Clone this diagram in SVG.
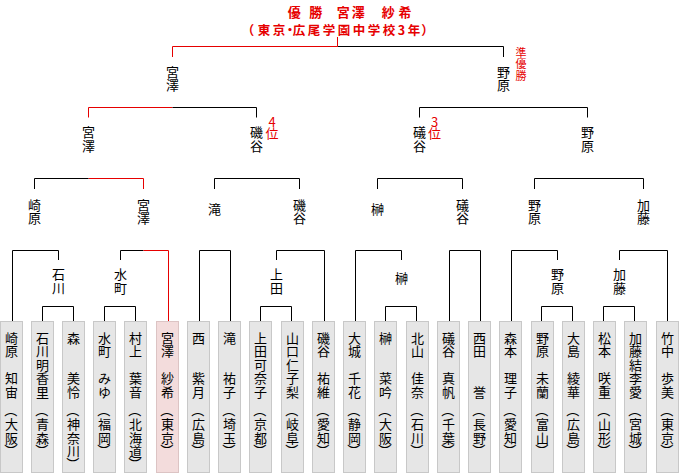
<svg xmlns="http://www.w3.org/2000/svg" width="680" height="474" viewBox="0 0 680 474">
<style>
.k{fill:none;stroke:#000;stroke-width:1}
.r{fill:none;stroke:#e60000;stroke-width:1}
.b{fill:#e6e6e6;stroke:#c8c8c8;stroke-width:1}
.w{fill:#f3dcdc;stroke:#dcc4c4;stroke-width:1}
text{font-family:"Noto Sans CJK JP","Noto Sans",sans-serif;font-size:13px;text-anchor:middle;dominant-baseline:central;fill:#000}
.t{fill:#e60000;font-weight:bold}
.red{fill:#e60000}
</style>
<g id="title">
<text class="t" style="font-size:13px" x="294.3 315.8 343.3 358.3 388.3 405" y="11">優勝宮澤紗希</text>
<text class="t" style="font-size:12.5px" x="248 264 279 290 299 314 329 344 359 374 389 401.5 414 427.5" y="29">（東京・広尾学園中学校3年）</text>
</g>
<g id="connectors">
<path class="k" d="M337.5 46.5H503.5V57"/>
<path class="r" d="M337.5 37V46.5H172.5V57"/>
<path class="r" d="M172.5 107.5H88.5V117.5"/>
<path class="k" d="M172.5 107.5H256.5V117.5"/>
<path class="k" d="M419.5 117.5V107.5H587.5V117.5"/>
<path class="r" d="M88.5 178.5H143.5V189"/>
<path class="k" d="M88.5 178.5H34.5V189"/>
<path class="k" d="M214.5 189V178.5H299.5V189M377.5 189V178.5H462.5V189M534.5 189V178.5H643.5V189"/>
<path class="k" d="M12.5 321V250.5H58.5V260M120.5 260V250.5H143.5M199.5 321V250.5H230.5V321M276.5 260V250.5H324.5V321M355.5 321V250.5H401.5V260M449.5 321V250.5H480.5V321M511.5 321V250.5H557.5V260M619.5 260V250.5H667.5V321"/>
<path class="r" d="M143.5 250.5H168.5V321"/>
<path class="k" d="M42.5 321V306.5H73.5V321M104.5 321V306.5H135.5V321M260.5 321V306.5H291.5V321M385.5 321V306.5H416.5V321M541.5 321V306.5H572.5V321M603.5 321V306.5H634.5V321"/>
</g>
<g id="labels">
<text x="172.5 172.5" y="71.5 84.5">宮澤</text>
<text x="503.5 503.5" y="71.5 84.5">野原</text>
<text class="red" style="font-size:11px" x="521 521 521" y="52 63 74.5">準優勝</text>
<text x="88.5 88.5" y="131.5 145">宮澤</text>
<text x="256.5 256.5" y="131.5 145">磯谷</text>
<text class="red" x="272 272" y="121 132.5">4位</text>
<text x="419.5 419.5" y="131.5 145">礒谷</text>
<text class="red" x="434.5 434.5" y="121 132.5">3位</text>
<text x="587.5 587.5" y="131.5 145">野原</text>
<text x="34.5 34.5" y="204 217.5">崎原</text>
<text x="143.5 143.5" y="204 217.5">宮澤</text>
<text x="214.5" y="208">滝</text>
<text x="299.5 299.5" y="204 217.5">磯谷</text>
<text x="377.5" y="208">榊</text>
<text x="462.5 462.5" y="204 217.5">礒谷</text>
<text x="534.5 534.5" y="204 217.5">野原</text>
<text x="643.5 643.5" y="204 217.5">加藤</text>
<text x="58.5 58.5" y="273.5 287">石川</text>
<text x="120.5 120.5" y="273.5 287">水町</text>
<text x="276.5 276.5" y="273.5 287">上田</text>
<text x="401.5" y="277.5">榊</text>
<text x="557.5 557.5" y="273.5 287">野原</text>
<text x="619.5 619.5" y="273.5 287">加藤</text>
</g>
<g id="p01"><rect class="b" x="0.5" y="321.5" width="22" height="151"/><text x="11.5 11.5 11.5 11.5" y="337 350.5 377.5 391">崎原知宙</text><text x="11.5 11.5" y="423.8 437.1">大阪</text><text transform="translate(11.5 410.5) rotate(90)">（</text><text transform="translate(11.5 450.4) rotate(90)">）</text></g>
<g id="p02"><rect class="b" x="31.5" y="321.5" width="22" height="151"/><text x="42.5 42.5 42.5 42.5 42.5" y="337 350.5 364 377.5 391">石川明香里</text><text x="42.5 42.5" y="423.8 437.1">青森</text><text transform="translate(42.5 410.5) rotate(90)">（</text><text transform="translate(42.5 450.4) rotate(90)">）</text></g>
<g id="p03"><rect class="b" x="62.5" y="321.5" width="22" height="151"/><text x="73.5 73.5 73.5" y="337 377.5 391">森美怜</text><text x="73.5 73.5 73.5" y="423.8 437.1 450.4">神奈川</text><text transform="translate(73.5 410.5) rotate(90)">（</text><text transform="translate(73.5 463.7) rotate(90)">）</text></g>
<g id="p04"><rect class="b" x="93.5" y="321.5" width="22" height="151"/><text x="104.5 104.5 104.5 104.5" y="337 350.5 377.5 391">水町みゆ</text><text x="104.5 104.5" y="423.8 437.1">福岡</text><text transform="translate(104.5 410.5) rotate(90)">（</text><text transform="translate(104.5 450.4) rotate(90)">）</text></g>
<g id="p05"><rect class="b" x="124.5" y="321.5" width="22" height="151"/><text x="135.5 135.5 135.5 135.5" y="337 350.5 377.5 391">村上葉音</text><text x="135.5 135.5 135.5" y="423.8 437.1 450.4">北海道</text><text transform="translate(135.5 410.5) rotate(90)">（</text><text transform="translate(135.5 463.7) rotate(90)">）</text></g>
<g id="p06"><rect class="w" x="156.5" y="321.5" width="22" height="151"/><text x="167.5 167.5 167.5 167.5" y="337 350.5 377.5 391">宮澤紗希</text><text x="167.5 167.5" y="423.8 437.1">東京</text><text transform="translate(167.5 410.5) rotate(90)">（</text><text transform="translate(167.5 450.4) rotate(90)">）</text></g>
<g id="p07"><rect class="b" x="187.5" y="321.5" width="22" height="151"/><text x="198.5 198.5 198.5" y="337 377.5 391">西紫月</text><text x="198.5 198.5" y="423.8 437.1">広島</text><text transform="translate(198.5 410.5) rotate(90)">（</text><text transform="translate(198.5 450.4) rotate(90)">）</text></g>
<g id="p08"><rect class="b" x="218.5" y="321.5" width="22" height="151"/><text x="229.5 229.5 229.5" y="337 377.5 391">滝祐子</text><text x="229.5 229.5" y="423.8 437.1">埼玉</text><text transform="translate(229.5 410.5) rotate(90)">（</text><text transform="translate(229.5 450.4) rotate(90)">）</text></g>
<g id="p09"><rect class="b" x="249.5" y="321.5" width="22" height="151"/><text x="260.5 260.5 260.5 260.5 260.5" y="337 350.5 364 377.5 391">上田可奈子</text><text x="260.5 260.5" y="423.8 437.1">京都</text><text transform="translate(260.5 410.5) rotate(90)">（</text><text transform="translate(260.5 450.4) rotate(90)">）</text></g>
<g id="p10"><rect class="b" x="281.5" y="321.5" width="22" height="151"/><text x="292.5 292.5 292.5 292.5 292.5" y="337 350.5 364 377.5 391">山口仁子梨</text><text x="292.5 292.5" y="423.8 437.1">岐阜</text><text transform="translate(292.5 410.5) rotate(90)">（</text><text transform="translate(292.5 450.4) rotate(90)">）</text></g>
<g id="p11"><rect class="b" x="312.5" y="321.5" width="22" height="151"/><text x="323.5 323.5 323.5 323.5" y="337 350.5 377.5 391">磯谷祐維</text><text x="323.5 323.5" y="423.8 437.1">愛知</text><text transform="translate(323.5 410.5) rotate(90)">（</text><text transform="translate(323.5 450.4) rotate(90)">）</text></g>
<g id="p12"><rect class="b" x="343.5" y="321.5" width="22" height="151"/><text x="354.5 354.5 354.5 354.5" y="337 350.5 377.5 391">大城千花</text><text x="354.5 354.5" y="423.8 437.1">静岡</text><text transform="translate(354.5 410.5) rotate(90)">（</text><text transform="translate(354.5 450.4) rotate(90)">）</text></g>
<g id="p13"><rect class="b" x="374.5" y="321.5" width="22" height="151"/><text x="385.5 385.5 385.5" y="337 377.5 391">榊菜吟</text><text x="385.5 385.5" y="423.8 437.1">大阪</text><text transform="translate(385.5 410.5) rotate(90)">（</text><text transform="translate(385.5 450.4) rotate(90)">）</text></g>
<g id="p14"><rect class="b" x="406.5" y="321.5" width="22" height="151"/><text x="417.5 417.5 417.5 417.5" y="337 350.5 377.5 391">北山佳奈</text><text x="417.5 417.5" y="423.8 437.1">石川</text><text transform="translate(417.5 410.5) rotate(90)">（</text><text transform="translate(417.5 450.4) rotate(90)">）</text></g>
<g id="p15"><rect class="b" x="437.5" y="321.5" width="22" height="151"/><text x="448.5 448.5 448.5 448.5" y="337 350.5 377.5 391">礒谷真帆</text><text x="448.5 448.5" y="423.8 437.1">千葉</text><text transform="translate(448.5 410.5) rotate(90)">（</text><text transform="translate(448.5 450.4) rotate(90)">）</text></g>
<g id="p16"><rect class="b" x="468.5" y="321.5" width="22" height="151"/><text x="479.5 479.5 479.5" y="337 350.5 391">西田誉</text><text x="479.5 479.5" y="423.8 437.1">長野</text><text transform="translate(479.5 410.5) rotate(90)">（</text><text transform="translate(479.5 450.4) rotate(90)">）</text></g>
<g id="p17"><rect class="b" x="499.5" y="321.5" width="22" height="151"/><text x="510.5 510.5 510.5 510.5" y="337 350.5 377.5 391">森本理子</text><text x="510.5 510.5" y="423.8 437.1">愛知</text><text transform="translate(510.5 410.5) rotate(90)">（</text><text transform="translate(510.5 450.4) rotate(90)">）</text></g>
<g id="p18"><rect class="b" x="531.5" y="321.5" width="22" height="151"/><text x="542.5 542.5 542.5 542.5" y="337 350.5 377.5 391">野原未蘭</text><text x="542.5 542.5" y="423.8 437.1">富山</text><text transform="translate(542.5 410.5) rotate(90)">（</text><text transform="translate(542.5 450.4) rotate(90)">）</text></g>
<g id="p19"><rect class="b" x="562.5" y="321.5" width="22" height="151"/><text x="573.5 573.5 573.5 573.5" y="337 350.5 377.5 391">大島綾華</text><text x="573.5 573.5" y="423.8 437.1">広島</text><text transform="translate(573.5 410.5) rotate(90)">（</text><text transform="translate(573.5 450.4) rotate(90)">）</text></g>
<g id="p20"><rect class="b" x="593.5" y="321.5" width="22" height="151"/><text x="604.5 604.5 604.5 604.5" y="337 350.5 377.5 391">松本咲重</text><text x="604.5 604.5" y="423.8 437.1">山形</text><text transform="translate(604.5 410.5) rotate(90)">（</text><text transform="translate(604.5 450.4) rotate(90)">）</text></g>
<g id="p21"><rect class="b" x="624.5" y="321.5" width="22" height="151"/><text x="635.5 635.5 635.5 635.5 635.5" y="337 350.5 364 377.5 391">加藤結李愛</text><text x="635.5 635.5" y="423.8 437.1">宮城</text><text transform="translate(635.5 410.5) rotate(90)">（</text><text transform="translate(635.5 450.4) rotate(90)">）</text></g>
<g id="p22"><rect class="b" x="656.5" y="321.5" width="22" height="151"/><text x="667.5 667.5 667.5 667.5" y="337 350.5 377.5 391">竹中歩美</text><text x="667.5 667.5" y="423.8 437.1">東京</text><text transform="translate(667.5 410.5) rotate(90)">（</text><text transform="translate(667.5 450.4) rotate(90)">）</text></g>
</svg>
